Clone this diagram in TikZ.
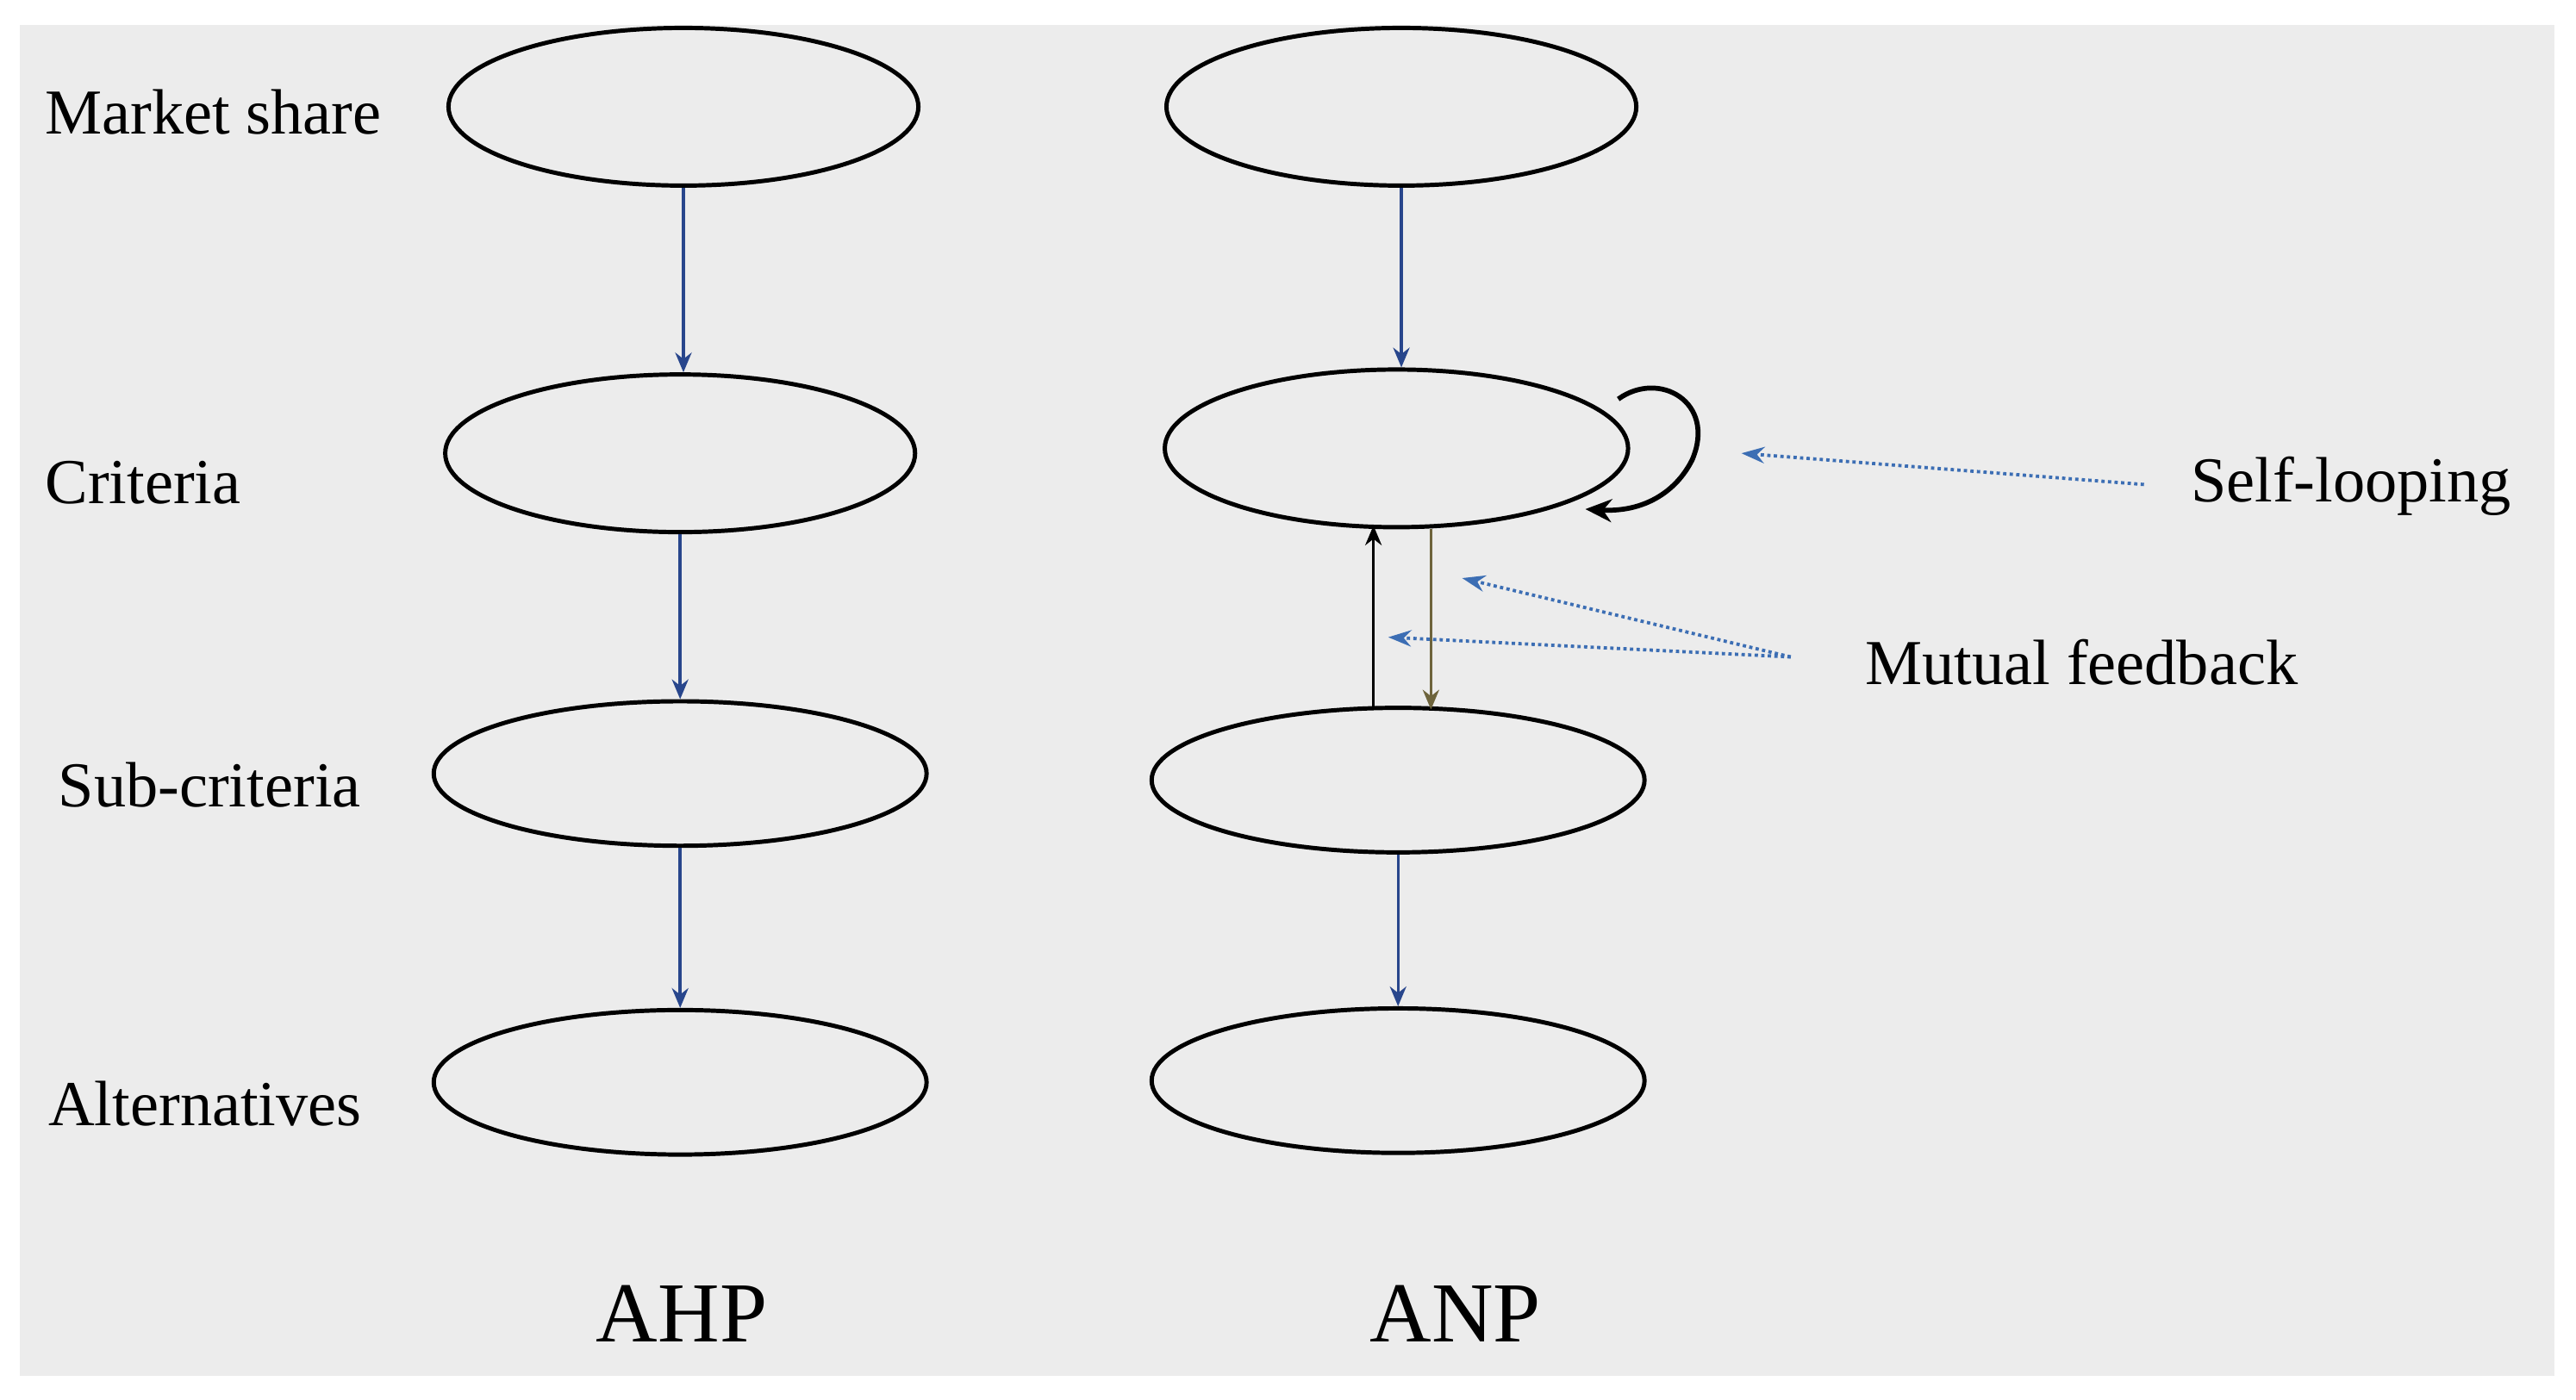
\documentclass[tikz,border=0pt]{standalone}
\usepackage{fontspec}
\setmainfont{Liberation Serif}
\usetikzlibrary{arrows.meta,shapes.geometric}
\begin{document}
\begin{tikzpicture}[x=1pt,y=-1pt,
  el/.style={draw=black,line width=2.6pt,ellipse,inner sep=0pt},
  lab/.style={font=\fontsize{39}{42}\selectfont,anchor=west},
  ar/.style={draw={rgb,255:red,40;green,70;blue,140},line width=1.8pt,-{Stealth[length=12pt,width=10pt]}},
  dt/.style={draw={rgb,255:red,60;green,110;blue,180},line width=2pt,dotted,-{Stealth[length=14pt,width=10pt]}}]
\useasboundingbox (0,0) rectangle (1568,852);
\fill[white] (0,0) rectangle (1568,852);
\fill[gray!15] (12,15) rectangle (1555,838);
\node[el,minimum width=286pt,minimum height=96pt] (a1) at (416,65) {};
\node[el,minimum width=286pt,minimum height=96pt] (a2) at (414,276) {};
\node[el,minimum width=300pt,minimum height=88pt] (a3) at (414,471) {};
\node[el,minimum width=300pt,minimum height=88pt] (a4) at (414,659) {};
\node[el,minimum width=286pt,minimum height=96pt] (b1) at (853,65) {};
\node[el,minimum width=282pt,minimum height=96pt] (b2) at (850,273) {};
\node[el,minimum width=300pt,minimum height=88pt] (b3) at (851,475) {};
\node[el,minimum width=300pt,minimum height=88pt] (b4) at (851,658) {};
\node[lab] (l1) at (24,68) {Market share};
\node[lab] (l2) at (24,294) {Criteria};
\node[lab] (l3) at (32,478) {Sub-criteria};
\node[lab] (l4) at (26,672) {Alternatives};
\node[font=\fontsize{52}{56}\selectfont] (t1) at (415,800) {AHP};
\node[font=\fontsize{52}{56}\selectfont] (t2) at (886,800) {ANP};
\node[lab] (s) at (1330,296) {Self-looping};
\node[lab] (m) at (1132,403) {Mutual feedback};
\draw[ar] (a1.south) -- (a1.south |- a2.north);
\draw[ar] (a2.south) -- (a2.south |- a3.north);
\draw[ar] (a3.south) -- (a3.south |- a4.north);
\draw[ar] (b1.south) -- (b1.south |- b2.north);
\draw[ar] (b3.south) -- (b3.south |- b4.north);
\coordinate (u0) at (836,432); \coordinate (u1) at (836,320);
\coordinate (d0) at (871,322); \coordinate (d1) at (871,432);
\draw[line width=1.8pt,-{Stealth[length=12pt,width=10pt]}] (u0) -- (u1);
\draw[line width=1.8pt,draw={rgb,255:red,110;green,100;blue,60},-{Stealth[length=12pt,width=10pt]}] (d0) -- (d1);
\coordinate (sl0) at (985,243); \coordinate (sl1) at (965,310);
\draw[line width=3pt,-{Stealth[length=16pt,width=14pt]}] (sl0) .. controls (1010,225) and (1045,245) .. (1030,280) .. controls (1020,300) and (1000,312) .. (sl1);
\coordinate (p0) at (1305,295); \coordinate (p1) at (1060,276);
\coordinate (q0) at (1090,400); \coordinate (q1) at (890,352); \coordinate (q2) at (845,388);
\draw[dt] (p0) -- (p1);
\draw[dt] (q0) -- (q1);
\draw[dt] (q0) -- (q2);
\end{tikzpicture}
\end{document}
